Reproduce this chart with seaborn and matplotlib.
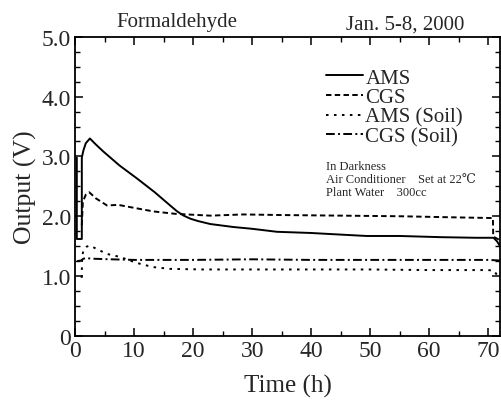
import pandas as pd
import matplotlib
matplotlib.use("Agg")
import matplotlib.pyplot as plt
import seaborn as sns

# ---- data (time in h, output in V) ----
ams_t = [0.28, 0.28, 1.13, 1.13, 1.4, 1.8, 2.5, 3.5, 4.8, 7.5, 10.5, 13.5, 16.1, 17.3, 18.4,
         19.5, 20.8, 22.9, 26.8, 30.0, 34.2, 40.0, 43.7, 49.4, 55.0, 62.0, 68.0, 70.9, 71.5, 72.0]
ams_v = [2.98, 1.62, 1.62, 2.98, 3.10, 3.22, 3.30, 3.20, 3.08, 2.85, 2.63, 2.40, 2.18, 2.08, 2.01,
         1.96, 1.92, 1.87, 1.82, 1.79, 1.74, 1.72, 1.70, 1.67, 1.67, 1.65, 1.64, 1.64, 1.58, 1.50]

cgs_t = [1.13, 1.3, 1.8, 2.4, 3.5, 5.4, 7.3, 10.0, 13.3, 17.0, 22.9, 28.5, 35.0, 45.0,
         55.0, 65.0, 70.8, 70.85, 72.0]
cgs_v = [1.85, 2.24, 2.36, 2.40, 2.30, 2.18, 2.19, 2.14, 2.08, 2.04, 2.01, 2.03, 2.02, 2.01,
         2.00, 1.98, 1.97, 1.66, 1.60]

ams_soil_t = [1.1, 1.2, 1.5, 1.9, 2.5, 3.5, 5.4, 7.6, 10.4, 13.2, 16.1, 21.8, 30.0, 40.0,
              50.0, 60.0, 70.0, 71.0, 71.6, 72.0]
ams_soil_v = [0.97, 1.35, 1.45, 1.49, 1.51, 1.46, 1.37, 1.32, 1.22, 1.15, 1.12, 1.11, 1.11, 1.11,
              1.11, 1.10, 1.10, 1.09, 1.00, 0.95]

cgs_soil_t = [0.3, 1.0, 1.4, 1.8, 3.0, 6.0, 10.0, 20.0, 30.0, 40.0, 50.0, 60.0, 70.0, 72.0]
cgs_soil_v = [1.25, 1.26, 1.29, 1.30, 1.29, 1.28, 1.27, 1.27, 1.28, 1.27, 1.27, 1.27, 1.27, 1.26]

series_names = ["AMS", "CGS", "AMS (Soil)", "CGS (Soil)"]
xtick_vals = [0, 10, 20, 30, 40, 50, 60, 70]
ytick_vals = [0, 1, 2, 3, 4, 5]
ytick_labels = ["0", "1.0", "2.0", "3.0", "4.0", "5.0"]

frames = []
for name, t, v in zip(series_names,
                      [ams_t, cgs_t, ams_soil_t, cgs_soil_t],
                      [ams_v, cgs_v, ams_soil_v, cgs_soil_v]):
    frames.append(pd.DataFrame({"Time": t, "Output": v, "series": name}))
df = pd.concat(frames, ignore_index=True)

sns.set_theme(style="ticks")
plt.rcParams["font.family"] = ["Liberation Serif", "DejaVu Serif"]

fig = plt.figure(figsize=(5.01, 4.02), dpi=100)
ax = fig.add_axes([0.150, 0.162, 0.848, 0.744])

dashes = {
    "AMS": "",
    "CGS": (2.8, 1.7),
    "AMS (Soil)": (1.3, 2.8),
    "CGS (Soil)": (4.5, 1.7, 1.0, 1.7),
}
sns.lineplot(data=df, x="Time", y="Output", style="series", style_order=series_names,
             dashes=dashes, color="black", linewidth=1.4, estimator=None, sort=False, ax=ax)

ax.set_xlim(0, 72)
ax.set_ylim(0, 5)
ax.set_xticks(xtick_vals)
ax.set_xticks(range(0, 75, 5), minor=True)
ax.set_yticks(ytick_vals)
ax.set_yticklabels(ytick_labels)
ax.set_yticks([i * 0.25 for i in range(21)], minor=True)
ax.tick_params(which="both", direction="in", top=True, right=True, color="black",
               labelsize=17, pad=3)
ax.tick_params(which="major", length=6, width=1.1)
ax.tick_params(which="minor", length=3.5, width=1.0)
for s in ax.spines.values():
    s.set_color("black")
    s.set_linewidth(1.3)

ax.set_xlabel("Time (h)", fontsize=18, labelpad=9)
ax.set_ylabel("Output (V)", fontsize=18.5, labelpad=3)

handles, labels = ax.get_legend_handles_labels()
ax.legend(handles, labels, loc="upper left", bbox_to_anchor=(0.59, 0.895), frameon=False,
          fontsize=15, handlelength=1.8, handletextpad=0.1, labelspacing=0.0,
          borderaxespad=0, borderpad=0)

ax.text(0.59, 0.587, "In Darkness\nAir Conditioner    Set at 22\u2103\nPlant Water    300cc",
        transform=ax.transAxes, fontsize=9, va="top", ha="left", linespacing=1.1,
        family=["Liberation Serif", "DejaVu Serif"])

fig.text(177 / 501, 1 - 27 / 402, "Formaldehyde", fontsize=15, ha="center", va="baseline")
fig.text(405 / 501, 1 - 30 / 402, "Jan. 5-8, 2000", fontsize=15, ha="center", va="baseline")

fig.savefig("out.png", dpi=100)
